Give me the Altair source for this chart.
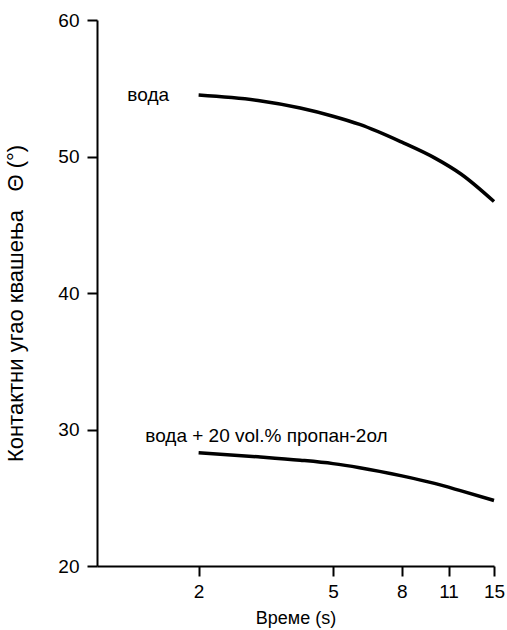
import altair as alt
import pandas as pd

time_s = [2, 3, 4, 5, 6, 8, 10, 12, 15]
water = [54.5, 54.1, 53.55, 52.95, 52.35, 51.05, 49.9, 48.7, 46.7]
water_ipa = [28.3, 28.0, 27.75, 27.5, 27.2, 26.6, 26.05, 25.5, 24.8]

label_text = ["вода", "вода + 20 vol.% пропан-2ол"]
label_t = [1.23, 1.39]
label_v = [54.5, 29.5]

x_ticks = [2, 5, 8, 11, 15]
y_ticks = [20, 30, 40, 50, 60]

rows = []
for t, v in zip(time_s, water):
    rows.append({"t": t, "v": v, "series": "вода"})
for t, v in zip(time_s, water_ipa):
    rows.append({"t": t, "v": v, "series": "вода + 20 vol.% пропан-2ол"})
df = pd.DataFrame(rows)
lab = pd.DataFrame({"text": label_text, "t": label_t, "v": label_v})

FONT = "Liberation Sans"

x_enc = alt.X(
    "t:Q",
    scale=alt.Scale(type="log", domain=[1, 15], nice=False),
    axis=alt.Axis(
        values=x_ticks, title="Време (s)", grid=False, labelFlush=False,
        labelOverlap=False, format="d", titlePadding=8, labelPadding=6,
        titleFontSize=18,
    ),
)
y_enc = alt.Y(
    "v:Q",
    scale=alt.Scale(domain=[20, 60], nice=False, zero=False),
    axis=alt.Axis(
        values=y_ticks, title="Контактни угао квашења\u00a0\u00a0\u00a0Θ (°)", grid=False,
        titleX=-70, titleY=283, titleFontSize=22, labelPadding=8,
    ),
)

lines = alt.Chart(df).mark_line(color="black", strokeWidth=3.5, interpolate="monotone").encode(
    x=x_enc, y=y_enc, detail="series:N"
)
texts = alt.Chart(lab).mark_text(
    align="left", baseline="middle", fontSize=19, font=FONT, color="black"
).encode(x="t:Q", y="v:Q", text="text:N")

chart = alt.layer(lines, texts).properties(
    width=397, height=546,
    autosize=alt.AutoSizeParams(type="none"),
    padding={"left": 97, "top": 20, "right": 13, "bottom": 64},
).configure_view(stroke=None).configure_axis(
    domainColor="black", domainWidth=2, tickColor="black", tickWidth=2, tickSize=10,
    labelColor="black", labelFont=FONT, labelFontSize=19,
    titleColor="black", titleFont=FONT, titleFontWeight="normal",
)

chart.save("out.html", embed_options={"renderer": "svg", "actions": False})
